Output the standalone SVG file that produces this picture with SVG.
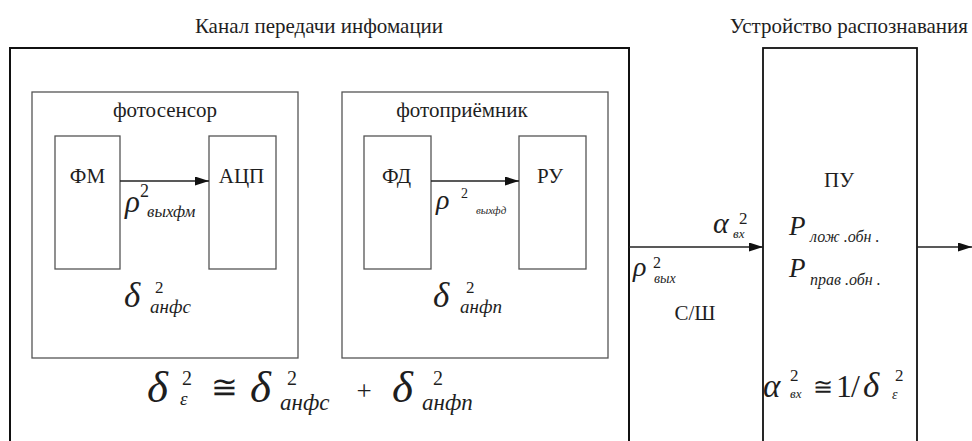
<svg xmlns="http://www.w3.org/2000/svg" width="972" height="441" viewBox="0 0 972 441">
<style>
.outer{fill:none;stroke:#111;stroke-width:2}
.box{fill:#fff;stroke:#555;stroke-width:1.3}
.conn{stroke:#222;stroke-width:1.6;fill:none}
</style>
<defs>
<marker id="ah" markerWidth="14" markerHeight="9" refX="14" refY="4.5" orient="auto" markerUnits="userSpaceOnUse">
<path d="M0,0 L14,4.5 L0,9 Z" fill="#111"/>
</marker>
</defs>
<rect width="972" height="441" fill="#fff"/>

<g id="channel">
<text style="font-family:'Liberation Serif',serif;font-size:21px;fill:#1e1e1e" x="319" y="33" text-anchor="middle">Канал передачи инфомации</text>
<path class="outer" d="M10,445 V48 H629 V445"/>
</g>

<g id="fotosensor">
<rect class="box" x="32" y="92" width="266" height="266"/>
<text style="font-family:'Liberation Serif',serif;font-size:21px;fill:#1e1e1e" x="165" y="117" text-anchor="middle">фотосенсор</text>
<text style="font-family:'Liberation Serif',serif;font-size:31px;font-style:italic;fill:#1e1e1e" x="125" y="212">ρ</text>
<text style="font-family:'Liberation Serif',serif;font-size:18px;fill:#1e1e1e" x="140" y="197">2</text>
<text style="font-family:'Liberation Serif',serif;font-size:17px;font-style:italic;fill:#1e1e1e" x="147" y="217">выхфм</text>
<text style="font-family:'Liberation Serif',serif;font-size:35px;font-style:italic;fill:#1e1e1e" x="124" y="307">δ</text>
<text style="font-family:'Liberation Serif',serif;font-size:17px;fill:#1e1e1e" x="155" y="293">2</text>
<text style="font-family:'Liberation Serif',serif;font-size:19px;font-style:italic;fill:#1e1e1e" x="150" y="313">анфс</text>
</g>
<g id="fm"><rect class="box" x="55" y="136" width="65" height="133"/><text style="font-family:'Liberation Serif',serif;font-size:21px;fill:#1e1e1e" x="87.5" y="183" text-anchor="middle">ФМ</text></g>
<g id="acp"><rect class="box" x="209" y="136" width="67" height="133"/><text style="font-family:'Liberation Serif',serif;font-size:21px;fill:#1e1e1e" x="241.5" y="183" text-anchor="middle">АЦП</text></g>

<g id="fotopriemnik">
<rect class="box" x="342" y="92" width="266" height="266"/>
<text style="font-family:'Liberation Serif',serif;font-size:21px;fill:#1e1e1e" x="462" y="117" text-anchor="middle">фотоприёмник</text>
<text style="font-family:'Liberation Serif',serif;font-size:28px;font-style:italic;fill:#1e1e1e" x="436" y="209">ρ</text>
<text style="font-family:'Liberation Serif',serif;font-size:14px;fill:#1e1e1e" x="461" y="198">2</text>
<text style="font-family:'Liberation Serif',serif;font-size:11px;font-style:italic;fill:#1e1e1e" x="476" y="214">выхфд</text>
<text style="font-family:'Liberation Serif',serif;font-size:35px;font-style:italic;fill:#1e1e1e" x="433" y="307">δ</text>
<text style="font-family:'Liberation Serif',serif;font-size:17px;fill:#1e1e1e" x="466" y="293">2</text>
<text style="font-family:'Liberation Serif',serif;font-size:19px;font-style:italic;fill:#1e1e1e" x="460" y="313">анфп</text>
</g>
<g id="fd"><rect class="box" x="364" y="136" width="67" height="133"/><text style="font-family:'Liberation Serif',serif;font-size:21px;fill:#1e1e1e" x="396.5" y="183" text-anchor="middle">ФД</text></g>
<g id="ru"><rect class="box" x="519" y="136" width="67" height="133"/><text style="font-family:'Liberation Serif',serif;font-size:21px;fill:#1e1e1e" x="550" y="183" text-anchor="middle">РУ</text></g>

<g id="equation">
<text style="font-family:'Liberation Serif',serif;font-size:45px;font-style:italic;fill:#1e1e1e" x="147" y="402">δ</text>
<text style="font-family:'Liberation Serif',serif;font-size:20px;fill:#1e1e1e" x="182" y="385">2</text>
<text style="font-family:'Liberation Serif',serif;font-size:19px;font-style:italic;fill:#1e1e1e" x="180" y="405">ε</text>
<text style="font-family:'Liberation Serif',serif;font-size:32px;fill:#1e1e1e" x="224" y="398" text-anchor="middle">≅</text>
<text style="font-family:'Liberation Serif',serif;font-size:45px;font-style:italic;fill:#1e1e1e" x="250" y="402">δ</text>
<text style="font-family:'Liberation Serif',serif;font-size:20px;fill:#1e1e1e" x="287" y="385">2</text>
<text style="font-family:'Liberation Serif',serif;font-size:23px;font-style:italic;fill:#1e1e1e" x="280" y="410">анфс</text>
<text style="font-family:'Liberation Serif',serif;font-size:27px;fill:#1e1e1e" x="364" y="400" text-anchor="middle">+</text>
<text style="font-family:'Liberation Serif',serif;font-size:45px;font-style:italic;fill:#1e1e1e" x="392" y="402">δ</text>
<text style="font-family:'Liberation Serif',serif;font-size:20px;fill:#1e1e1e" x="433" y="385">2</text>
<text style="font-family:'Liberation Serif',serif;font-size:23px;font-style:italic;fill:#1e1e1e" x="422" y="410">анфп</text>
</g>

<g id="recognition">
<text style="font-family:'Liberation Serif',serif;font-size:21px;fill:#1e1e1e" x="968" y="33" text-anchor="end">Устройство распознавания</text>
<rect x="763" y="48" width="154" height="400" fill="#fff" stroke="#111" stroke-width="1.8"/>
<text style="font-family:'Liberation Serif',serif;font-size:21px;fill:#1e1e1e" x="839" y="187" text-anchor="middle">ПУ</text>
<text style="font-family:'Liberation Serif',serif;font-size:27px;font-style:italic;fill:#1e1e1e" x="789" y="235">P</text>
<text style="font-family:'Liberation Serif',serif;font-size:16px;font-style:italic;fill:#1e1e1e" x="810" y="242">лож .обн .</text>
<text style="font-family:'Liberation Serif',serif;font-size:27px;font-style:italic;fill:#1e1e1e" x="789" y="277">P</text>
<text style="font-family:'Liberation Serif',serif;font-size:16px;font-style:italic;fill:#1e1e1e" x="810" y="285">прав .обн .</text>
<text style="font-family:'Liberation Serif',serif;font-size:33px;font-style:italic;fill:#1e1e1e" x="763" y="397">α</text>
<text style="font-family:'Liberation Serif',serif;font-size:17px;fill:#1e1e1e" x="790" y="381">2</text>
<text style="font-family:'Liberation Serif',serif;font-size:13px;font-style:italic;fill:#1e1e1e" x="790" y="398">вх</text>
<text style="font-family:'Liberation Serif',serif;font-size:24px;fill:#1e1e1e" x="823" y="395" text-anchor="middle">≅</text>
<text style="font-family:'Liberation Serif',serif;font-size:32px;fill:#1e1e1e" x="836" y="397">1</text>
<text style="font-family:'Liberation Serif',serif;font-size:32px;fill:#1e1e1e" x="851" y="397">/</text>
<text style="font-family:'Liberation Serif',serif;font-size:35px;font-style:italic;fill:#1e1e1e" x="863" y="397">δ</text>
<text style="font-family:'Liberation Serif',serif;font-size:17px;fill:#1e1e1e" x="895" y="381">2</text>
<text style="font-family:'Liberation Serif',serif;font-size:14px;font-style:italic;fill:#1e1e1e" x="892" y="399">ε</text>
</g>

<g id="connectors">
<line class="conn" x1="120" y1="181" x2="209" y2="181" marker-end="url(#ah)"/>
<line class="conn" x1="431" y1="181" x2="519" y2="181" marker-end="url(#ah)"/>
<line class="conn" x1="629" y1="247" x2="763" y2="247" marker-end="url(#ah)"/>
<line class="conn" x1="917" y1="247" x2="972" y2="247" marker-end="url(#ah)"/>
<text style="font-family:'Liberation Serif',serif;font-size:30px;font-style:italic;fill:#1e1e1e" x="713" y="233">α</text>
<text style="font-family:'Liberation Serif',serif;font-size:17px;fill:#1e1e1e" x="739" y="224">2</text>
<text style="font-family:'Liberation Serif',serif;font-size:13px;font-style:italic;fill:#1e1e1e" x="733" y="238">вх</text>
<text style="font-family:'Liberation Serif',serif;font-size:28px;font-style:italic;fill:#1e1e1e" x="633" y="276">ρ</text>
<text style="font-family:'Liberation Serif',serif;font-size:16px;fill:#1e1e1e" x="653" y="268">2</text>
<text style="font-family:'Liberation Serif',serif;font-size:14px;font-style:italic;fill:#1e1e1e" x="654" y="283">вых</text>
<text style="font-family:'Liberation Serif',serif;font-size:21px;fill:#1e1e1e" x="695" y="320" text-anchor="middle">С/Ш</text>
</g>
</svg>
